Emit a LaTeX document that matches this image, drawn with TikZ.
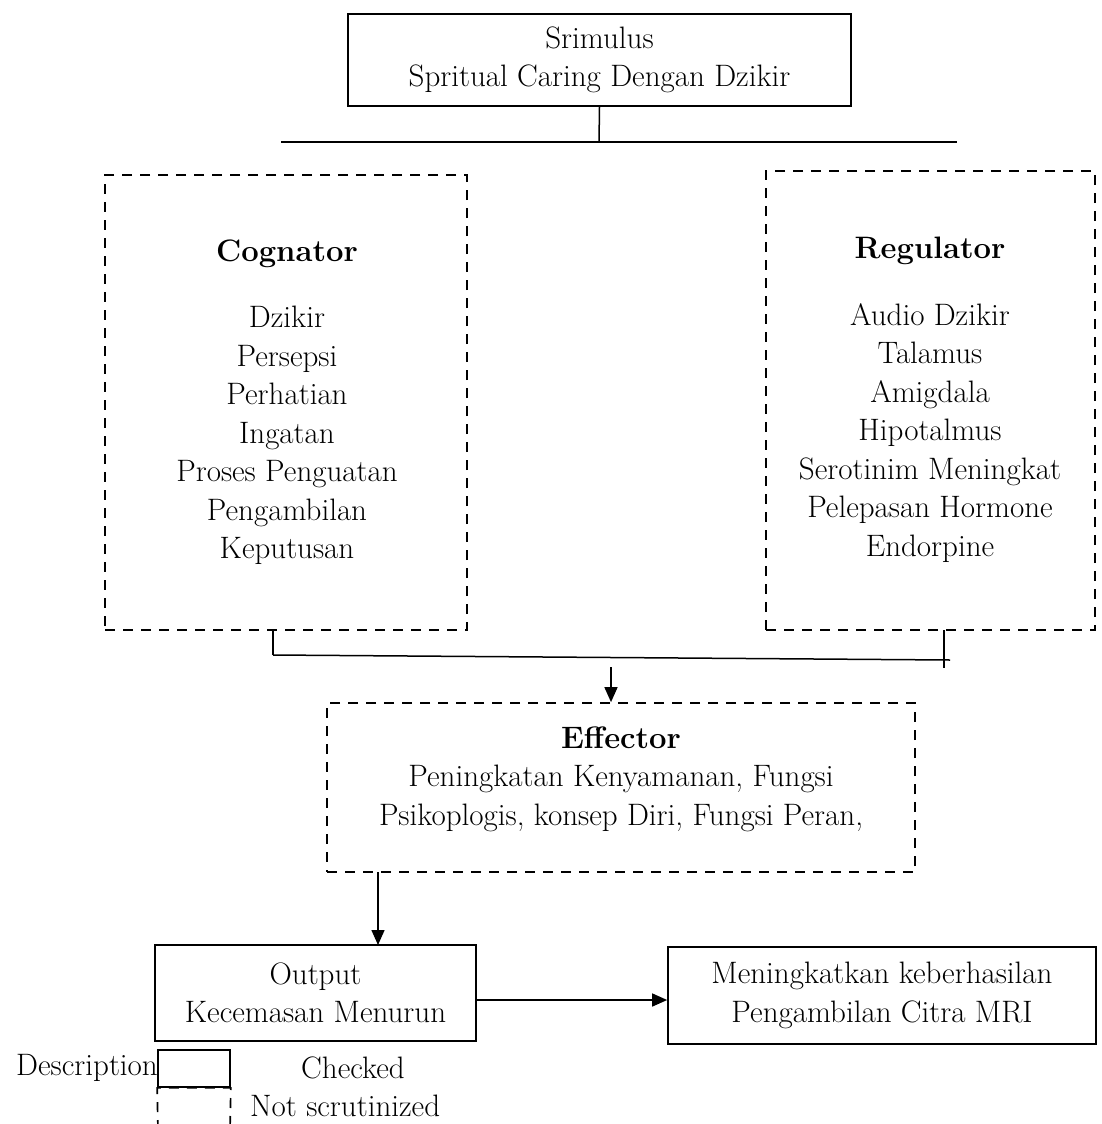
\documentclass[tikz,border=0pt]{standalone}
\usetikzlibrary{arrows.meta}
\begin{document}
\begin{tikzpicture}[x=1pt,y=-1pt,
  every node/.style={font=\fontsize{31}{38.5}\selectfont, inner sep=0pt},
  solidbox/.style={draw, line width=1.7pt, align=center},
  dashbox/.style={draw, line width=1.7pt, dash pattern=on 10pt off 8pt, align=center},
  conn/.style={line width=1.5pt},
  arr/.style={line width=1.5pt, -{Triangle[length=15pt,width=13pt]}}
]
\useasboundingbox (0,0) rectangle (1102,1124);

% top box
\node[solidbox, minimum width=503pt, minimum height=92pt] (stim) at (599.5,60)
  {Srimulus\\Spritual Caring Dengan Dzikir};
\coordinate (hl) at (281,142);
\coordinate (hr) at (957,142);
\coordinate (hm) at (599,142);
\draw[conn] (hl) -- (hr);
\draw[conn] (stim.south) -- (hm);

% cognator
\node[dashbox, minimum width=362pt, minimum height=455pt] (cog) at (286,402.5) {};
\node (cogt) at (287,402) [align=center]
  {\textbf{Cognator}\\[28pt]Dzikir\\Persepsi\\Perhatian\\Ingatan\\Proses Penguatan\\Pengambilan\\Keputusan};

% regulator
\node[dashbox, minimum width=329pt, minimum height=459pt] (reg) at (930.5,400.5) {};
\node (regt) at (930,400) [align=center]
  {\textbf{Regulator}\\[28pt]Audio Dzikir\\Talamus\\Amigdala\\Hipotalmus\\Serotinim Meningkat\\Pelepasan Hormone\\Endorpine};

% junction
\coordinate (jl) at (273,655);
\coordinate (jr) at (950,660);
\coordinate (jrt) at (944,668);
\draw[conn] (273,630) -- (jl);
\draw[conn] (944,630) -- (jrt);
\draw[conn] (jl) -- (jr);
\coordinate (ja) at (611,667);

% effector
\node[dashbox, minimum width=588pt, minimum height=169pt] (eff) at (621,787.5) {};
\node (efft) at (621,779) [align=center]
  {\textbf{Effector}\\Peningkatan Kenyamanan, Fungsi\\Psikoplogis, konsep Diri, Fungsi Peran,};
\draw[arr] (ja) -- (ja |- eff.north);

% output
\node[solidbox, minimum width=321pt, minimum height=96pt] (out) at (315.5,993)
  {Output\\Kecemasan Menurun};
\draw[arr] (378,872) -- (378,945);

% result
\node[solidbox, minimum width=428pt, minimum height=97pt] (res) at (882,995.5)
  {Meningkatkan keberhasilan\\Pengambilan Citra MRI};
\draw[arr] (out.east |- 0,1000) -- (res.west |- 0,1000);

% legend
\node[anchor=east] (desc) at (158,1068) {Description};
\node[draw, line width=1.7pt, minimum width=72pt, minimum height=37pt] (lsolid) at (194,1068.5) {};
\draw[line width=1.7pt, dash pattern=on 10pt off 8pt] (158,1130) -- (lsolid.south west) -- (lsolid.south east) -- (230,1130);
\node (chk) at (353,1068) {Checked};
\node[anchor=west] (nsc) at (250,1106) {Not scrutinized};
\end{tikzpicture}
\end{document}
